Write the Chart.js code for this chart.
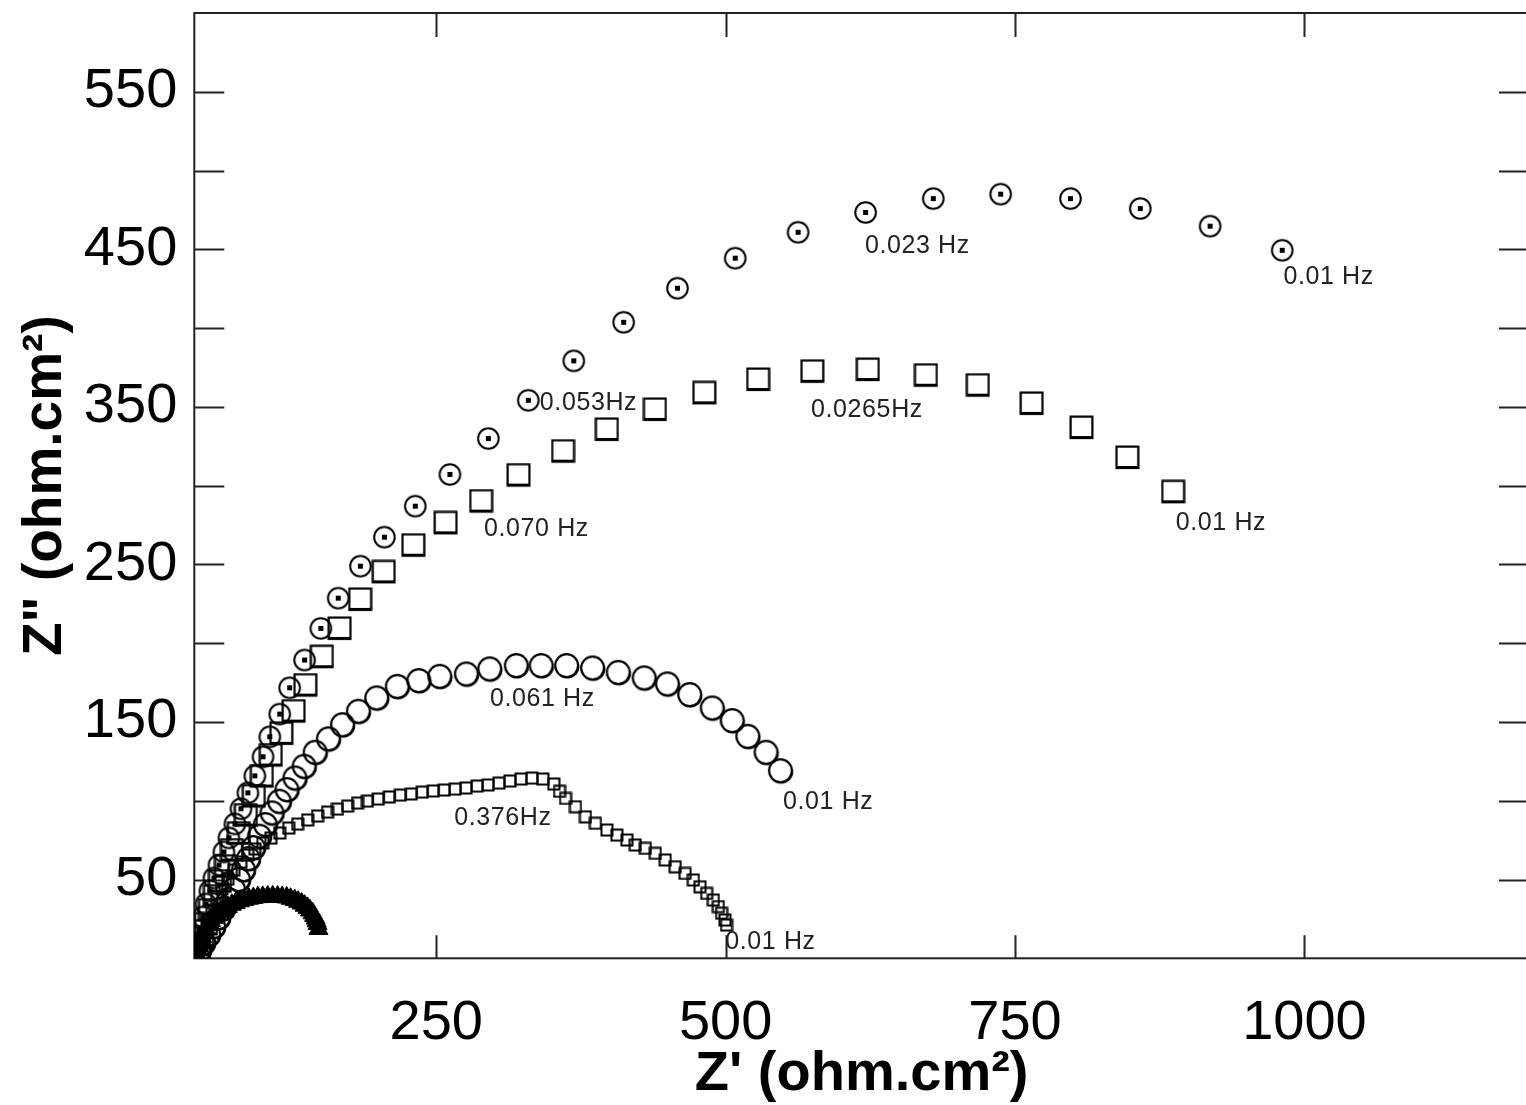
<!DOCTYPE html>
<html><head><meta charset="utf-8">
<script src="https://cdn.jsdelivr.net/npm/chart.js@4.4.1/dist/chart.umd.min.js"></script>
<style>html,body{margin:0;padding:0;overflow:hidden;background:#fff;}#wrap{position:absolute;left:0;top:0;width:1541px;height:1105px;}canvas{display:block;}</style>
</head><body><div id="wrap"><canvas id="c" width="1541" height="1105" style="width:1541px;height:1105px;"></canvas></div>
<script>
// ---- data ----
const xTickLabels = [250, 500, 750, 1000];
const yTickLabels = [50, 150, 250, 350, 450, 550];
const yTickMarks = [50, 100, 150, 200, 250, 300, 350, 400, 450, 500, 550];

// dotted circles
const s1x = [44.2,45.9,48.5,51.1,54.5,58.0,62.3,66.6,70.9,76.1,81.3,87.3,93.3,100.4,106.2,114.8,123.4,136.3,150.3,165.3,184.5,205.2,231.9,261.8,295.0,329.5,368.8,411.9,458.4,508.3,562.6,620.9,679.4,737.6,797.9,858.2,918.5,980.8];
const s1y = [9.7,18.0,26.3,34.5,42.8,51.0,59.2,67.5,76.4,85.3,94.9,105.0,115.8,127.9,140.6,155.0,171.7,189.3,209.4,228.6,248.9,267.3,287.0,307.1,329.9,354.2,379.2,403.7,425.3,444.4,460.8,473.4,482.2,485.0,482.2,475.9,464.7,449.4];
// large squares
const s2x = [45.0,47.6,51.1,54.5,58.8,63.1,68.3,73.5,79.5,85.5,92.4,99.3,107.0,116.2,126.8,136.9,151.2,166.5,184.3,204.6,230.2,258.1,288.8,321.1,359.6,397.4,438.9,481.6,528.1,574.9,622.8,673.0,717.8,764.3,807.4,847.0,886.6];
const s2y = [5.3,12.9,21.8,30.6,39.5,49.0,58.5,68.7,79.4,90.9,103.0,115.7,129.0,142.8,156.9,173.4,191.4,209.4,227.8,245.3,262.2,276.4,290.2,306.7,321.9,335.7,348.4,358.9,367.4,372.6,373.7,370.1,363.8,352.2,336.9,317.9,296.1];
// open circles
const s3x = [46.0,49.4,53.7,58.0,62.3,66.6,70.9,75.2,79.5,83.8,88.1,92.4,97.6,102.7,108.5,114.8,121.4,128.3,136.3,145.8,157.2,169.3,183.1,198.9,216.7,235.3,253.4,276.4,296.5,319.5,341.0,363.0,385.4,407.6,430.0,450.0,469.3,488.8,506.0,519.5,535.3,547.7];
const s3y = [5.3,9.7,14.8,19.9,25.6,31.3,37.0,43.4,49.7,56.0,63.0,70.0,77.2,84.6,92.0,99.4,106.8,114.2,121.6,130.5,139.0,148.0,156.5,165.0,172.3,176.0,178.7,180.2,183.4,185.5,185.5,185.5,184.0,181.2,177.7,173.9,167.1,158.6,150.6,140.6,130.5,118.8];
// small squares
const s4x = [45.9,48.5,51.9,56.3,60.5,64.8,70.0,75.2,81.2,87.2,93.3,100.2,107.1,114.8,122.6,130.3,138.9,147.5,156.1,164.7,173.4,182.0,190.6,200.0,209.5,219.0,228.5,237.9,247.4,256.9,266.3,275.8,285.3,294.8,304.2,313.7,323.2,332.7,342.1,351.6,356.5,361.7,370.3,378.9,387.5,397.5,406.1,414.7,421.9,430.6,439.2,447.8,456.4,465.0,472.1,477.9,483.6,489.4,493.7,496.5,499.4,500.8];
const s4y = [8.4,16.1,23.7,30.6,37.7,44.0,50.3,56.0,61.1,65.5,69.4,73.2,76.3,79.5,82.7,85.2,87.8,90.3,92.8,94.7,96.6,98.5,99.8,101.1,102.4,103.6,104.3,105.5,106.2,106.8,107.4,108.1,109.3,110.0,111.2,112.5,113.8,114.4,113.8,110.6,106.0,101.5,96.2,89.8,85.7,81.4,78.2,75.1,71.9,69.8,66.6,62.4,58.1,53.9,49.7,45.4,41.2,37.0,32.8,28.6,24.3,21.1];
// filled triangles
const s5x = [42.5,43.3,44.2,45.0,46.3,47.6,49.3,51.1,53.2,55.4,57.9,60.5,63.5,66.6,70.0,73.4,76.8,80.3,84.2,88.1,92.0,95.9,100.1,104.4,108.7,113.0,116.9,120.8,124.2,127.7,130.7,133.7,136.3,138.9,141.0,143.2,144.5,145.8,146.6,147.5,148.3];
const s5y = [0.5,2.1,5.0,7.8,10.6,13.5,16.0,18.6,21.2,23.7,25.7,27.6,29.4,31.0,32.6,34.0,35.1,36.2,37.0,37.8,38.3,38.8,39.0,39.2,39.3,39.2,38.9,38.6,37.8,37.0,35.9,34.8,33.4,32.0,30.3,28.6,26.9,25.2,23.5,21.8,18.6];

// frequency annotations (left edge x, vertical centre y)
const annotText = ["0.023 Hz","0.01 Hz","0.053Hz","0.0265Hz","0.070 Hz","0.01 Hz","0.061 Hz","0.01 Hz","0.376Hz","0.01 Hz"];
const annotX = [620.3,981.9,339.5,573.8,291.3,888.9,296.4,549.6,265.5,499.7];
const annotY = [452.0,432.3,352.3,347.9,272.4,276.2,164.5,99.3,89.0,10.3];

const zip = (xs, ys) => xs.map((v, i) => ({x: v, y: ys[i]}));

// ---- marker images ----
function marker(size, draw){ const c=document.createElement('canvas'); c.width=c.height=size; const g=c.getContext('2d'); g.strokeStyle='#000'; g.fillStyle='#000'; draw(g,size); return c; }
const mDotCircle = marker(25, (g)=>{ g.lineWidth=2; g.beginPath(); g.arc(12.5,12.5,10.3,0,Math.PI*2); g.stroke(); g.fillRect(10,10,5,5); });
const mSquare = marker(25, (g)=>{ g.lineWidth=2.2; g.strokeRect(1.6,1.6,21.8,21.4); g.fillRect(1,21,23,3); });
const mOpenCircle = marker(28, (g)=>{ g.lineWidth=2.2; g.beginPath(); g.arc(13.6,13.6,11.4,0,Math.PI*2); g.stroke(); g.lineWidth=1.2; g.beginPath(); g.arc(14.4,14.4,11.4,-0.2,Math.PI*0.8); g.stroke(); });
const mSmallSquare = marker(14, (g)=>{ g.lineWidth=2; g.strokeRect(1.5,1.5,11,11); });

const framePlugin = {
  id: 'frame',
  beforeDatasetsDraw(chart){
    const {ctx, chartArea:{left,right,top,bottom}, scales:{x,y}} = chart;
    ctx.save();
    ctx.strokeStyle = '#222';
    ctx.lineWidth = 2;
    ctx.strokeRect(left, top, right-left, bottom-top);
    ctx.beginPath();
    xTickLabels.forEach(v=>{ const px=Math.round(x.getPixelForValue(v))+0.5; ctx.moveTo(px,top); ctx.lineTo(px,top+24); ctx.moveTo(px,bottom); ctx.lineTo(px,bottom-23); });
    yTickMarks.forEach(v=>{ const py=Math.round(y.getPixelForValue(v))+0.5; ctx.moveTo(left,py); ctx.lineTo(left+30,py); ctx.moveTo(right,py); ctx.lineTo(right-30,py); });
    ctx.lineWidth = 2;
    ctx.stroke();
    ctx.restore();
  },
  afterDatasetsDraw(chart){
    const {ctx, scales:{x,y}} = chart;
    ctx.save();
    ctx.font = '25px "Liberation Sans", Arial, sans-serif';
    try { ctx.letterSpacing = '0.6px'; } catch(e) {}
    ctx.fillStyle = '#222';
    ctx.textBaseline = 'middle';
    ctx.textAlign = 'left';
    annotText.forEach((t,i)=> ctx.fillText(t, x.getPixelForValue(annotX[i]), y.getPixelForValue(annotY[i])));
    ctx.restore();
  }
};

new Chart(document.getElementById('c'), {
  type: 'scatter',
  data: { datasets: [
    { label: 'A', data: zip(s1x,s1y), pointStyle: mDotCircle },
    { label: 'B', data: zip(s2x,s2y), pointStyle: mSquare },
    { label: 'C', data: zip(s3x,s3y), pointStyle: mOpenCircle },
    { label: 'D', data: zip(s4x,s4y), pointStyle: mSmallSquare },
    { label: 'E', data: zip(s5x,s5y), pointStyle: 'triangle', pointRadius: 11, backgroundColor: '#000', borderColor: '#000' }
  ]},
  options: {
    responsive: true,
    maintainAspectRatio: false,
    animation: false,
    layout: { padding: { left: 0, right: 0, top: 13, bottom: 0 } },
    plugins: { legend: { display: false }, tooltip: { enabled: false } },
    elements: { point: { radius: 10, borderColor: '#000', backgroundColor: 'rgba(0,0,0,0)' } },
    scales: {
      x: {
        type: 'linear', min: 41, max: 1194,
        grid: { display: false, drawTicks: false }, border: { display: false },
        afterBuildTicks: s => { s.ticks = xTickLabels.map(v=>({value:v})); },
        afterFit: s => { s.height = 146.7; s.paddingLeft = 0; s.paddingRight = 0; },
        ticks: { padding: 37, color: '#000', callback: v => String(v), font: { family: '"Liberation Sans", Arial, sans-serif', size: 56, lineHeight: 1 } },
        title: { display: true, text: "Z' (ohm.cm²)", color: '#000', padding: { top: 0, bottom: 2 }, font: { family: '"Liberation Sans", Arial, sans-serif', size: 56, weight: 'bold', lineHeight: 1 } }
      },
      y: {
        type: 'linear', min: 0, max: 600,
        grid: { display: false, drawTicks: false }, border: { display: false },
        afterBuildTicks: s => { s.ticks = yTickLabels.map(v=>({value:v})); },
        afterFit: s => { s.width = 194.3; s.paddingTop = 0; s.paddingBottom = 0; },
        ticks: { padding: 17, color: '#000', callback: v => String(v), font: { family: '"Liberation Sans", Arial, sans-serif', size: 56, lineHeight: 1 } },
        title: { display: true, text: 'Z" (ohm.cm²)', color: '#000', padding: { top: 18, bottom: 0 }, font: { family: '"Liberation Sans", Arial, sans-serif', size: 55, weight: 'bold', lineHeight: 1 } }
      }
    }
  },
  plugins: [framePlugin]
});
</script>
</body></html>
